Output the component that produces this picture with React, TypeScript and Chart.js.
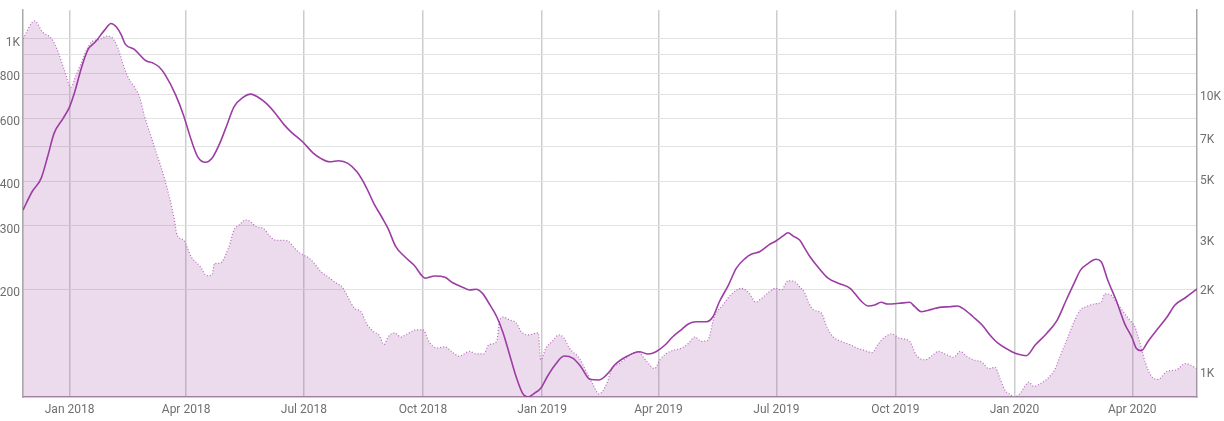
import React, { useEffect, useRef } from 'react';
import { Chart, registerables } from 'chart.js';

Chart.register(...registerables);

// Filled (dotted outline) series — left log axis
const areaDates = [
  '2017-11-26','2017-12-05','2017-12-11','2017-12-18','2017-12-22','2017-12-28','2018-01-02','2018-01-06','2018-01-10','2018-01-14',
  '2018-01-18','2018-01-24','2018-01-30','2018-02-02','2018-02-07','2018-02-11','2018-02-15','2018-02-20','2018-02-24','2018-02-28',
  '2018-03-05','2018-03-10','2018-03-15','2018-03-19','2018-03-23','2018-03-25','2018-03-30','2018-04-05','2018-04-12','2018-04-17',
  '2018-04-21','2018-04-23','2018-04-27','2018-05-04','2018-05-08','2018-05-12','2018-05-17','2018-05-21','2018-05-25','2018-05-31',
  '2018-06-04','2018-06-09','2018-06-18','2018-06-23','2018-06-28','2018-07-05','2018-07-09','2018-07-14','2018-07-19','2018-07-26',
  '2018-07-31','2018-08-04','2018-08-09','2018-08-14','2018-08-19','2018-08-24','2018-08-28','2018-09-01','2018-09-04','2018-09-09',
  '2018-09-14','2018-09-19','2018-09-26','2018-10-01','2018-10-06','2018-10-12','2018-10-18','2018-10-23','2018-10-29','2018-11-06',
  '2018-11-11','2018-11-17','2018-11-21','2018-11-27','2018-11-29','2018-12-02','2018-12-07','2018-12-12','2018-12-16','2018-12-21',
  '2018-12-29','2018-12-31','2019-01-04','2019-01-09','2019-01-14','2019-01-18','2019-01-22','2019-01-30','2019-02-04','2019-02-09',
  '2019-02-14','2019-02-20','2019-02-24','2019-03-02','2019-03-10','2019-03-16','2019-03-21','2019-03-25','2019-03-29','2019-04-02',
  '2019-04-10','2019-04-19','2019-04-24','2019-04-29','2019-05-04','2019-05-09','2019-05-14','2019-05-21','2019-05-27','2019-06-04',
  '2019-06-10','2019-06-15','2019-06-20','2019-06-26','2019-06-30','2019-07-05','2019-07-10','2019-07-15','2019-07-19','2019-07-23',
  '2019-07-26','2019-07-30','2019-08-05','2019-08-09','2019-08-14','2019-08-20','2019-08-27','2019-09-01','2019-09-07','2019-09-13',
  '2019-09-18','2019-09-23','2019-09-28','2019-10-04','2019-10-12','2019-10-17','2019-10-24','2019-10-30','2019-11-03','2019-11-10',
  '2019-11-15','2019-11-20','2019-11-25','2019-11-30','2019-12-07','2019-12-12','2019-12-17','2019-12-21','2019-12-25','2019-12-28',
  '2020-01-01','2020-01-05','2020-01-09','2020-01-12','2020-01-16','2020-01-21','2020-01-27','2020-02-01','2020-02-06','2020-02-11',
  '2020-02-16','2020-02-21','2020-02-26','2020-03-03','2020-03-08','2020-03-11','2020-03-15','2020-03-20','2020-03-25','2020-03-30',
  '2020-04-03','2020-04-07','2020-04-11','2020-04-16','2020-04-21','2020-04-28','2020-05-05','2020-05-12','2020-05-21',
];
const areaValues = [
  1000, 1120, 1044, 1000, 940, 816, 732, 791, 854, 928,
  979, 994, 1016, 1011, 948, 854, 782, 733, 688, 605,
  532, 468, 411, 362, 312, 283, 274, 246, 231, 218,
  219, 236, 236, 262, 292, 302, 312, 308, 299, 295,
  283, 274, 273, 262, 252, 244, 236, 224, 217, 208,
  202, 190, 177, 173, 159, 152, 149, 140, 147, 151,
  147, 150, 154, 154, 142, 137, 138, 134, 130, 134,
  132, 132, 140, 143, 162, 167, 164, 161, 152, 149,
  151, 127, 137, 143, 149, 146, 137, 128, 118, 109,
  102, 109, 120, 124, 131, 134, 128, 123, 120, 127,
  134, 137, 141, 147, 143, 144, 167, 181, 193, 201,
  195, 184, 189, 197, 201, 199, 211, 210, 203, 195,
  183, 175, 171, 157, 147, 143, 140, 137, 135, 133,
  141, 147, 150, 146, 143, 131, 127, 131, 134, 131,
  129, 134, 130, 127, 125, 120, 121, 112, 104, 102,
  100, 102, 107, 110, 107, 109, 113, 119, 132, 146,
  162, 175, 179, 182, 184, 194, 193, 183, 173, 164,
  157, 141, 125, 114, 112, 118, 119, 124, 120,
];

// Solid line series — right log axis
const lineDates = [
  '2017-11-26','2017-12-03','2017-12-10','2017-12-15','2017-12-20','2017-12-27','2018-01-01','2018-01-05','2018-01-10','2018-01-15',
  '2018-01-21','2018-01-28','2018-02-02','2018-02-06','2018-02-10','2018-02-13','2018-02-20','2018-03-01','2018-03-06','2018-03-11',
  '2018-03-16','2018-03-24','2018-03-30','2018-04-05','2018-04-10','2018-04-16','2018-04-21','2018-04-27','2018-05-03','2018-05-08',
  '2018-05-15','2018-05-21','2018-05-26','2018-06-02','2018-06-09','2018-06-16','2018-06-21','2018-06-30','2018-07-08','2018-07-14',
  '2018-07-21','2018-07-28','2018-08-04','2018-08-11','2018-08-18','2018-08-24','2018-08-30','2018-09-04','2018-09-10','2018-09-17',
  '2018-09-24','2018-10-03','2018-10-10','2018-10-18','2018-10-24','2018-11-01','2018-11-06','2018-11-11','2018-11-16','2018-11-21',
  '2018-11-27','2018-12-02','2018-12-07','2018-12-12','2018-12-17','2018-12-21','2018-12-26','2018-12-31','2019-01-05','2019-01-11',
  '2019-01-18','2019-01-25','2019-01-31','2019-02-07','2019-02-14','2019-02-22','2019-02-26','2019-03-08','2019-03-17','2019-03-24',
  '2019-03-30','2019-04-06','2019-04-12','2019-04-19','2019-04-24','2019-04-30','2019-05-08','2019-05-13','2019-05-18','2019-05-25',
  '2019-05-31','2019-06-07','2019-06-12','2019-06-18','2019-06-25','2019-07-01','2019-07-06','2019-07-10','2019-07-14','2019-07-19',
  '2019-07-23','2019-07-27','2019-08-02','2019-08-10','2019-08-18','2019-08-27','2019-09-05','2019-09-10','2019-09-15','2019-09-20',
  '2019-09-25','2019-10-04','2019-10-12','2019-10-16','2019-10-21','2019-10-29','2019-11-04','2019-11-12','2019-11-18','2019-11-22',
  '2019-11-30','2019-12-07','2019-12-13','2019-12-19','2019-12-30','2020-01-04','2020-01-10','2020-01-17','2020-01-26','2020-02-03',
  '2020-02-10','2020-02-16','2020-02-21','2020-02-27','2020-03-04','2020-03-08','2020-03-13','2020-03-20','2020-03-26','2020-04-01',
  '2020-04-04','2020-04-08','2020-04-13','2020-04-21','2020-04-28','2020-05-04','2020-05-12','2020-05-21',
];
const lineValues = [
  3790, 4415, 4935, 5905, 7175, 8130, 8950, 10140, 12320, 14345,
  15370, 16945, 17910, 17415, 16255, 15080, 14430, 13130, 12905, 12490,
  11655, 9865, 8350, 6785, 5905, 5640, 5830, 6600, 7795, 8950,
  9680, 9950, 9730, 9205, 8470, 7685, 7270, 6690, 6105, 5830,
  5665, 5715, 5590, 5210, 4600, 4010, 3585, 3255, 2795, 2570,
  2400, 2150, 2190, 2165, 2070, 1990, 1950, 1960, 1895, 1745,
  1560, 1360, 1135, 947, 825, 800, 825, 860, 947, 1044,
  1125, 1104, 1030, 927, 922, 987, 1044, 1125, 1166, 1144,
  1166, 1233, 1321, 1405, 1468, 1497, 1497, 1560, 1767, 2031,
  2334, 2537, 2629, 2680, 2833, 2937, 3052, 3139, 3052, 2953,
  2756, 2570, 2365, 2150, 2060, 1976, 1767, 1706, 1720, 1759,
  1735, 1745, 1759, 1696, 1627, 1659, 1687, 1696, 1706, 1673,
  1560, 1456, 1340, 1254, 1166, 1141, 1128, 1233, 1360, 1518,
  1793, 2060, 2300, 2433, 2516, 2466, 2118, 1767, 1477, 1304,
  1200, 1176, 1268, 1417, 1560, 1720, 1827, 1965,
];

const xRange = ['2017-11-26', '2020-05-21'];
const xTickDates = [
  '2018-01-01','2018-04-01','2018-07-01','2018-10-01','2019-01-01',
  '2019-04-01','2019-07-01','2019-10-01','2020-01-01','2020-04-01',
];
const xTickLabels = [
  'Jan 2018','Apr 2018','Jul 2018','Oct 2018','Jan 2019',
  'Apr 2019','Jul 2019','Oct 2019','Jan 2020','Apr 2020',
];
const leftRange = [100, 1200];
const leftTickValues = [200, 300, 400, 500, 600, 700, 800, 900, 1000];
const leftTickLabels = ['200', '300', '400', '', '600', '', '800', '', '1K'];
const rightRange = [800, 20000];
const rightTickValues = [1000, 2000, 3000, 5000, 7000, 10000];
const rightTickLabels = ['1K', '2K', '3K', '5K', '7K', '10K'];

const toMs = (s: string) => new Date(s + 'T00:00:00Z').getTime();

export default function App() {
  const ref = useRef<HTMLCanvasElement | null>(null);

  useEffect(() => {
    if (!ref.current) return;
    const tickFont = { family: 'Roboto', size: 12 };
    const tickColor = '#6f6f6f';
    const chart = new Chart(ref.current, {
      type: 'line',
      data: {
        datasets: [
          {
            label: 'line',
            data: lineDates.map((d, i) => ({ x: toMs(d), y: lineValues[i] })),
            yAxisID: 'yRight',
            borderColor: '#9c3da4',
            borderWidth: 1.6,
            pointRadius: 0,
            cubicInterpolationMode: 'monotone',
            fill: false,
            order: 0,
          },
          {
            label: 'area',
            data: areaDates.map((d, i) => ({ x: toMs(d), y: areaValues[i] })),
            yAxisID: 'yLeft',
            borderColor: '#b56abb',
            borderWidth: 1.2,
            borderDash: [1, 2],
            backgroundColor: 'rgba(150, 55, 150, 0.18)',
            fill: 'start',
            pointRadius: 0,
            cubicInterpolationMode: 'monotone',
            order: 1,
          },
        ],
      },
      options: {
        animation: false,
        responsive: false,
        devicePixelRatio: 1,
        layout: { padding: { top: 10, left: 0, right: 0, bottom: 0 } },
        plugins: { legend: { display: false }, tooltip: { enabled: false } },
        scales: {
          x: {
            type: 'linear',
            min: toMs(xRange[0]),
            max: toMs(xRange[1]),
            afterBuildTicks: (s: any) => {
              s.ticks = xTickDates.map((d) => ({ value: toMs(d) }));
            },
            afterFit: (s: any) => {
              s.height = 24;
            },
            ticks: {
              autoSkip: false,
              maxRotation: 0,
              padding: 6,
              color: tickColor,
              font: tickFont,
              callback: (v: any) => {
                const i = xTickDates.findIndex((d) => toMs(d) === v);
                return i >= 0 ? xTickLabels[i] : '';
              },
            },
            grid: { color: 'rgba(0,0,0,0.2)', lineWidth: 1.5, drawTicks: false },
            border: { color: '#a493a6', width: 1.5 },
          },
          yLeft: {
            type: 'logarithmic',
            position: 'left',
            min: leftRange[0],
            max: leftRange[1],
            afterBuildTicks: (s: any) => {
              s.ticks = leftTickValues.map((v) => ({ value: v }));
            },
            afterFit: (s: any) => {
              s.width = 23;
            },
            ticks: {
              autoSkip: false,
              padding: 3,
              labelOffset: 4,
              color: tickColor,
              font: tickFont,
              callback: (v: any) => {
                const i = leftTickValues.indexOf(Number(v));
                return i >= 0 ? leftTickLabels[i] : '';
              },
            },
            grid: { color: '#e2e2e2', lineWidth: 1, drawTicks: false },
            border: { color: '#a9a9a9', width: 1.5 },
          },
          yRight: {
            type: 'logarithmic',
            position: 'right',
            min: rightRange[0],
            max: rightRange[1],
            afterBuildTicks: (s: any) => {
              s.ticks = rightTickValues.map((v) => ({ value: v }));
            },
            afterFit: (s: any) => {
              s.width = 27;
            },
            ticks: {
              autoSkip: false,
              padding: 3,
              labelOffset: 4,
              color: tickColor,
              font: tickFont,
              callback: (v: any) => {
                const i = rightTickValues.indexOf(Number(v));
                return i >= 0 ? rightTickLabels[i] : '';
              },
            },
            grid: { drawOnChartArea: false, drawTicks: false },
            border: { color: '#a9a9a9', width: 1.5 },
          },
        },
      },
    } as any);
    return () => chart.destroy();
  }, []);

  return (
    <div style={{ position: 'fixed', left: 0, top: 0, width: 1224, height: 421, background: '#fff' }}>
      <canvas ref={ref} width={1224} height={421} style={{ display: 'block' }} />
    </div>
  );
}
